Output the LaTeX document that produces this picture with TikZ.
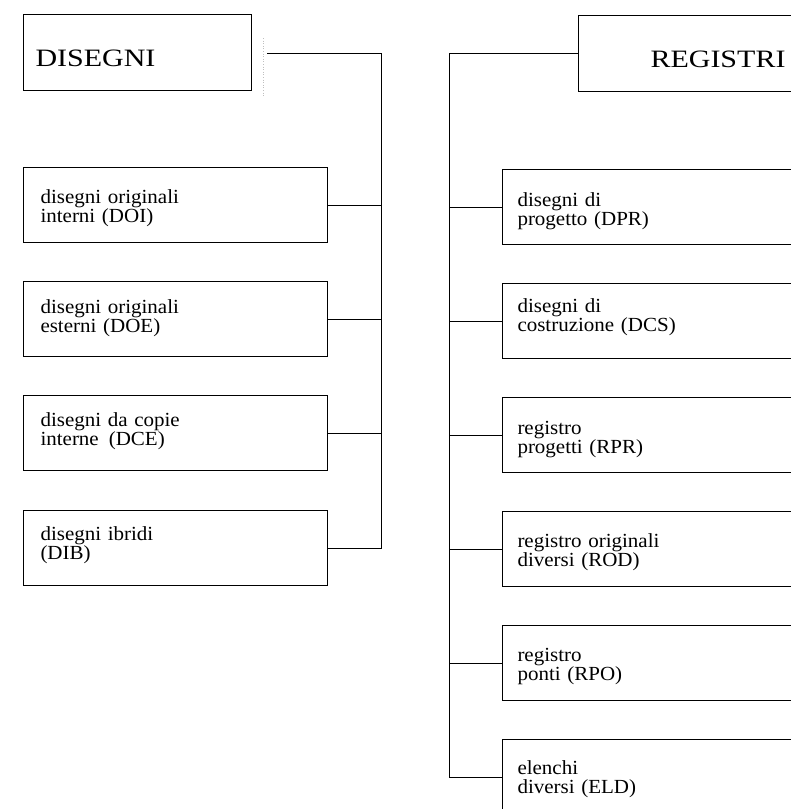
\documentclass[tikz,border=0pt]{standalone}
\usepackage{fontspec}
\setmainfont{Liberation Serif}[FakeStretch=1.05]
\newfontfamily\headfont{Liberation Serif}[FakeStretch=1.2]
\begin{document}
\begin{tikzpicture}[x=1pt,y=-1pt,line width=1pt,
  leaf/.style={draw, rectangle, anchor=north west, minimum height=75pt, align=left,
    inner ysep=0pt, font=\fontsize{20}{19}\selectfont, text depth=24pt},
  off/.style={text height=#1},
  lbox/.style={leaf, text width=270pt, inner xsep=17pt},
  rbox/.style={leaf, text width=280pt, inner xsep=15pt},
  head/.style={draw, rectangle, anchor=north west, minimum height=76pt, align=left,
    font=\headfont\fontsize{25}{27}\selectfont, text height=27pt, text depth=0pt, inner ysep=0pt},
  link/.style={line width=0.9pt},
  faint/.style={gray!50, dotted, line width=0.6pt}]
\useasboundingbox (0,0) rectangle (791,809);
\clip (0,0) rectangle (791,809);
% headers
\node[head, text width=204pt, inner xsep=12pt] (dis) at (23,14) {DISEGNI};
\node[head, text width=200pt, inner xsep=72pt] (reg) at (578,15) {REGISTRI};
% left boxes
\node[lbox, off=20.4pt] (doi) at (23,167) {disegni originali\\interni (DOI)};
\node[lbox, off=13.4pt] (doe) at (23,281) {disegni originali\\esterni (DOE)};
\node[lbox, off=10pt] (dce) at (23,395) {disegni da copie\\interne\enspace(DCE)};
\node[lbox, off=8pt] (dib) at (23,510) {disegni ibridi\\(DIB)};
% right boxes
\node[rbox, off=23pt] (dpr) at (502,169) {disegni di\\progetto (DPR)};
\node[rbox, off=7.4pt] (dcs) at (502,283) {disegni di\\costruzione (DCS)};
\node[rbox, off=22pt] (rpr) at (502,397) {registro\\progetti (RPR)};
\node[rbox, off=21.4pt] (rod) at (502,511) {registro originali\\diversi (ROD)};
\node[rbox, off=21pt] (rpo) at (502,625) {registro\\ponti (RPO)};
\node[rbox, off=19pt] (eld) at (502,739) {elenchi\\diversi (ELD)};
% trunk positions
\coordinate (lx) at (381,0);
\coordinate (rx) at (449,0);
\coordinate (ltop) at (267,53);
\coordinate (fa) at (263,38);
\coordinate (fb) at (263,96);
\draw[faint] (fa) -- (fb);
% left tree
\draw[link] (ltop) -- (ltop -| lx) |- (dib.east);
\draw[link] (doi.east) -- (doi.east -| lx);
\draw[link] (doe.east) -- (doe.east -| lx);
\draw[link] (dce.east) -- (dce.east -| lx);
% right tree
\draw[link] (reg.west) -- (reg.west -| rx) |- (eld.west);
\draw[link] (dpr.west) -- (dpr.west -| rx);
\draw[link] (dcs.west) -- (dcs.west -| rx);
\draw[link] (rpr.west) -- (rpr.west -| rx);
\draw[link] (rod.west) -- (rod.west -| rx);
\draw[link] (rpo.west) -- (rpo.west -| rx);
\end{tikzpicture}
\end{document}
